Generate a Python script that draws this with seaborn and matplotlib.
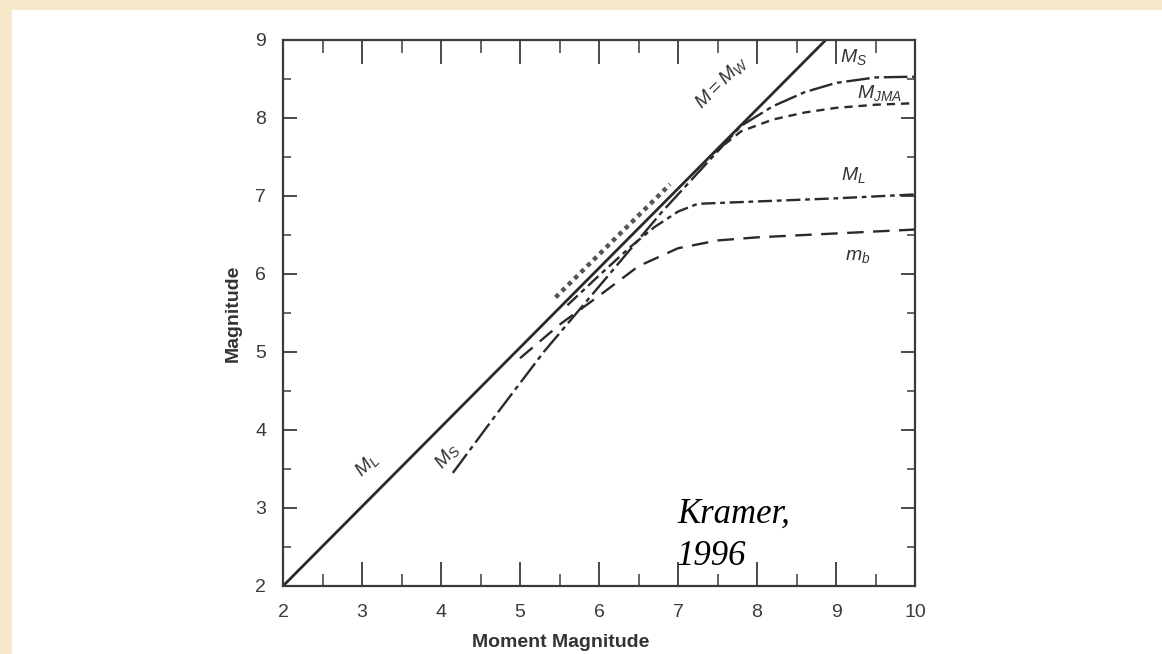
import matplotlib
matplotlib.use("Agg")
import matplotlib.pyplot as plt
import seaborn as sns
import pandas as pd
from matplotlib.patches import Rectangle

# ---------------- data ----------------
mw_line_x = [2.0, 8.87]
mw_line_y = [2.0, 9.0]

ms_x = [4.15, 4.7, 5.3, 5.8, 6.3, 6.8, 7.3, 7.8, 8.2, 8.6, 9.0, 9.5, 10.0]
ms_y = [3.45, 4.2, 5.0, 5.6, 6.2, 6.8, 7.35, 7.9, 8.15, 8.33, 8.45, 8.52, 8.53]

mjma_x = [7.45, 7.8, 8.2, 8.6, 9.0, 9.5, 10.0]
mjma_y = [7.55, 7.83, 7.98, 8.07, 8.13, 8.17, 8.19]

ml_x = [5.6, 6.0, 6.4, 6.7, 7.0, 7.25, 8.0, 9.0, 10.0]
ml_y = [5.6, 5.98, 6.35, 6.6, 6.8, 6.9, 6.93, 6.97, 7.02]

mb_x = [5.0, 5.5, 6.0, 6.5, 7.0, 7.5, 8.0, 9.0, 10.0]
mb_y = [4.92, 5.35, 5.72, 6.1, 6.33, 6.43, 6.47, 6.52, 6.57]

hatch_x = [5.45, 6.0, 6.5, 6.9]
hatch_y = [5.7, 6.25, 6.75, 7.15]

x_ticks = [2, 3, 4, 5, 6, 7, 8, 9, 10]
y_ticks = [2, 3, 4, 5, 6, 7, 8, 9]

# ---------------- style ----------------
sns.set_theme(style="white")
plt.rcParams["font.family"] = ["Liberation Sans", "DejaVu Sans"]
plt.rcParams["mathtext.fontset"] = "custom"
plt.rcParams["mathtext.it"] = "Liberation Sans:italic"
plt.rcParams["mathtext.rm"] = "Liberation Sans"

ink = "#2a2a2a"

fig = plt.figure(figsize=(11.62, 6.54), dpi=100)
fig.patch.set_facecolor("#F6E8CB")
bg = Rectangle((12 / 1162, 0), 1, 1 - 10 / 654, transform=fig.transFigure,
               facecolor="white", edgecolor="none", zorder=-10)
fig.patches.append(bg)

ax = fig.add_axes([283 / 1162, 1 - 586 / 654, (915 - 283) / 1162, (586 - 40) / 654])
ax.set_zorder(5)
ax.set_facecolor("white")

def draw(x, y, ls, lw=1.7, color=ink):
    df = pd.DataFrame({"x": x, "y": y})
    sns.lineplot(data=df, x="x", y="y", ax=ax, color=color, linewidth=lw,
                 linestyle=ls, sort=False, estimator=None)

draw(mw_line_x, mw_line_y, "-", lw=2.0)
draw(ms_x, ms_y, (0, (10, 2, 2, 2)))
draw(mjma_x, mjma_y, (0, (3.5, 2.5)))
draw(ml_x, ml_y, (0, (6, 2, 2, 2)))
draw(mb_x, mb_y, (0, (7, 4)))
draw(hatch_x, hatch_y, (0, (1, 1)), lw=3.2, color="#555555")

ax.set_xlim(2, 10)
ax.set_ylim(2, 9)
ax.set_xticks(x_ticks)
ax.set_yticks(y_ticks)
ax.set_xticklabels([str(t) for t in x_ticks])
ax.set_yticklabels([str(t) for t in y_ticks])
ax.set_xticks([t + 0.5 for t in x_ticks[:-1]], minor=True)
ax.set_yticks([t + 0.5 for t in y_ticks[:-1]], minor=True)

ax.tick_params(axis="x", which="major", direction="in", length=17, width=1.3,
               top=True, bottom=True, labelsize=14, pad=13, colors="#3a3a3a")
ax.tick_params(axis="x", which="minor", direction="in", length=9, width=1.1,
               top=True, bottom=True, colors="#3a3a3a")
ax.tick_params(axis="y", which="major", direction="in", length=10, width=1.3,
               left=True, right=True, labelsize=14, pad=12, colors="#3a3a3a")
ax.tick_params(axis="y", which="minor", direction="in", length=6, width=1.1,
               left=True, right=True, colors="#3a3a3a")

for s in ax.spines.values():
    s.set_visible(True)
    s.set_color("#3a3a3a")
    s.set_linewidth(1.6)

ax.set_xlabel("Moment Magnitude", fontsize=14, fontweight="bold", color="#333333")
ax.set_ylabel("Magnitude", fontsize=14, fontweight="bold", color="#333333")
ax.xaxis.set_label_coords(0.44, -0.088)
ax.yaxis.set_label_coords(-0.066, 0.5)

lab = dict(fontsize=14, color="#333333", ha="center", va="center")
ax.text(9.22, 8.78, "$M_S$", **lab)
ax.text(9.55, 8.32, "$M_{JMA}$", **lab)
ax.text(9.22, 7.27, "$M_L$", **lab)
ax.text(9.27, 6.22, "$m_b$", **lab)
ax.text(7.55, 8.45, "$M = M_W$", rotation=45, **lab)
ax.text(3.06, 3.55, "$M_L$", rotation=45, **lab)
ax.text(4.08, 3.67, "$M_S$", rotation=50, **lab)

serif = dict(fontsize=25, fontstyle="italic", family=["Liberation Serif", "DejaVu Serif"],
             color="black", va="baseline", ha="left")
ax.text(6.99, 2.81, "Kramer,", **serif)
ax.text(6.99, 2.27, "1996", **serif)

fig.savefig("out.png", dpi=100, facecolor=fig.get_facecolor())
